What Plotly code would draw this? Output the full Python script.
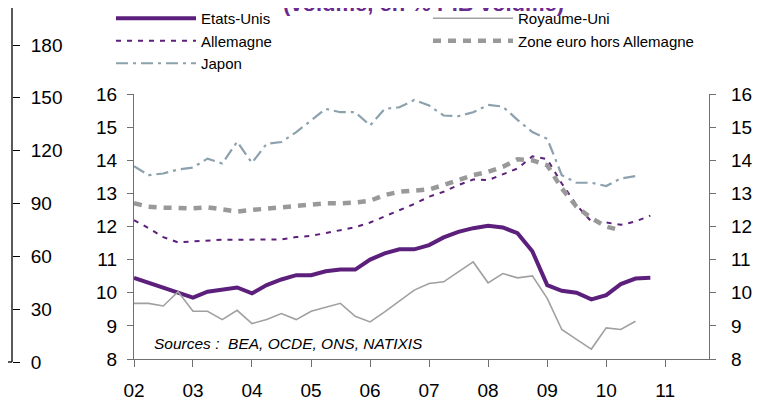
import pandas as pd
import plotly.graph_objects as go

# quarterly data, 2002 T1 -> 2010 T4 (en % du PIB volume)
quarters = pd.date_range("2002-01-01", periods=36, freq="QS")

etats_unis = [10.45, 10.30, 10.17, 10.00, 9.85, 10.03, 10.10, 10.16,
              9.98, 10.23, 10.40, 10.53, 10.53, 10.65, 10.70, 10.70,
              11.00, 11.19, 11.31, 11.31, 11.44, 11.67, 11.84, 11.95,
              12.02, 11.97, 11.80, 11.25, 10.23, 10.06, 10.00, 9.80,
              9.93, 10.26, 10.43, 10.45]

royaume_uni = [9.68, 9.68, 9.60, 10.03, 9.44, 9.44, 9.19, 9.47,
               9.07, 9.19, 9.37, 9.19, 9.44, 9.55, 9.68, 9.29,
               9.12, 9.42, 9.76, 10.08, 10.28, 10.33, 10.63, 10.93,
               10.30, 10.58, 10.45, 10.51, 9.83, 8.89, 8.59, 8.30,
               8.94, 8.89, 9.14]

allemagne = [12.19, 11.95, 11.68, 11.52, 11.55, 11.58, 11.60, 11.60,
             11.60, 11.60, 11.61, 11.68, 11.72, 11.80, 11.88, 11.98,
             12.12, 12.30, 12.50, 12.68, 12.90, 13.05, 13.25, 13.42,
             13.40, 13.57, 13.75, 14.12, 14.03, 13.30, 12.65, 12.15,
             12.12, 12.05, 12.15, 12.33]

zone_euro = [12.70, 12.60, 12.57, 12.55, 12.55, 12.58, 12.52, 12.45,
             12.50, 12.55, 12.58, 12.62, 12.66, 12.70, 12.70, 12.72,
             12.78, 12.95, 13.05, 13.10, 13.12, 13.25, 13.40, 13.55,
             13.65, 13.80, 14.03, 14.00, 13.85, 13.15, 12.60, 12.25,
             12.00, 11.88]

japon = [13.82, 13.55, 13.60, 13.72, 13.78, 14.05, 13.90, 14.56,
         13.92, 14.50, 14.55, 14.85, 15.20, 15.55, 15.45, 15.45,
         15.05, 15.55, 15.60, 15.82, 15.65, 15.35, 15.33, 15.45,
         15.67, 15.62, 15.22, 14.85, 14.65, 13.55, 13.32, 13.32,
         13.22, 13.45, 13.52]

left_ticks = [0, 30, 60, 90, 120, 150, 180]

# the page body has an 8px margin, so positions are given in window pixels
# and shifted back by 8
OFF = 8
W, H = 763 - OFF, 403 - OFF
def px(x):
    return (x - OFF) / W
def py(y):
    return 1 - (y - OFF) / H

PURPLE = "#5C1F7C"
FONT = "Arial, Liberation Sans, sans-serif"

fig = go.Figure()

fig.add_trace(go.Scatter(x=quarters[:len(etats_unis)], y=etats_unis, name="Etats-Unis",
                         mode="lines", line=dict(color=PURPLE, width=4)))
fig.add_trace(go.Scatter(x=quarters[:len(royaume_uni)], y=royaume_uni, name="Royaume-Uni",
                         mode="lines", line=dict(color="#A0A0A0", width=1.6)))
fig.add_trace(go.Scatter(x=quarters[:len(allemagne)], y=allemagne, name="Allemagne",
                         mode="lines", line=dict(color=PURPLE, width=2, dash="5px,6px")))
fig.add_trace(go.Scatter(x=quarters[:len(zone_euro)], y=zone_euro, name="Zone euro hors Allemagne",
                         mode="lines", line=dict(color="#999999", width=4.5, dash="8px,7px")))
fig.add_trace(go.Scatter(x=quarters[:len(japon)], y=japon, name="Japon",
                         mode="lines", line=dict(color="#8BA1AD", width=2.2, dash="12px,5px,3px,5px")))

# right-hand copy of the scale
fig.add_trace(go.Scatter(x=[quarters[0]], y=[8], yaxis="y2", showlegend=False,
                         mode="markers", marker=dict(opacity=0), hoverinfo="skip"))
# scale of the neighbouring (cropped) chart
fig.add_trace(go.Scatter(x=[0], y=[0], xaxis="x2", yaxis="y3", showlegend=False,
                         mode="markers", marker=dict(opacity=0), hoverinfo="skip"))

axis_col = "#707070"
tickfont = dict(family=FONT, size=19, color="#000000")

fig.update_layout(
    width=W, height=H,
    margin=dict(l=0, r=0, t=0, b=0, autoexpand=False),
    paper_bgcolor="white", plot_bgcolor="white",
    font=dict(family=FONT, color="#000000"),
    xaxis=dict(domain=[px(134), px(709)], anchor="y",
               type="date", range=["2002-01-01", "2011-09-29"],
               dtick="M12", tick0="2002-01-01", tickformat="%y",
               showgrid=False, zeroline=False, showline=True, linecolor=axis_col,
               linewidth=1.3, ticks="outside", ticklen=7, tickcolor=axis_col,
               tickfont=tickfont, ticklabelstandoff=7),
    yaxis=dict(domain=[py(359), py(94)], anchor="x", range=[8, 16], dtick=1,
               showgrid=False, zeroline=False, showline=True, linecolor=axis_col,
               linewidth=1.3, ticks="outside", ticklen=6, tickcolor=axis_col,
               tickfont=tickfont, ticklabelstandoff=6),
    yaxis2=dict(overlaying="y", side="right", anchor="x", range=[8, 16], dtick=1,
                showgrid=False, zeroline=False, showline=True, linecolor=axis_col,
                linewidth=1.3, ticks="outside", ticklen=6, tickcolor=axis_col,
                tickfont=tickfont, ticklabelstandoff=11),
    xaxis2=dict(domain=[0, px(12)], anchor="y3", range=[0, 1], showgrid=False,
                zeroline=False, showline=False, showticklabels=False, ticks=""),
    yaxis3=dict(domain=[py(362), 1], anchor="x2", side="right",
                range=[0, 180 * (362 - OFF) / 317], tickvals=left_ticks,
                showgrid=False, zeroline=False, showline=False,
                ticks="outside", ticklen=7, tickcolor="#000000",
                tickfont=tickfont, ticklabelstandoff=7),
    legend=dict(orientation="h", x=px(111), y=py(2), xanchor="left", yanchor="top",
                entrywidth=222, entrywidthmode="pixels", itemwidth=80,
                font=dict(family=FONT, size=15, color="#000000"),
                bgcolor="rgba(0,0,0,0)", tracegroupgap=0),
    annotations=[
        dict(text="<b>(volume, en % PIB volume)</b>", x=px(423), y=py(3.5),
             xref="paper", yref="paper", xanchor="center", yanchor="middle",
             showarrow=False, font=dict(family=FONT, size=22, color="#6A2A8E")),
        dict(text="<i>Sources :  BEA, OCDE, ONS, NATIXIS</i>", x=px(152), y=py(343),
             xref="paper", yref="paper", xanchor="left", yanchor="middle",
             showarrow=False, font=dict(family=FONT, size=15.5, color="#000000")),
    ],
    # frame of the neighbouring chart, running off the left/top edge
    shapes=[
        dict(type="line", xref="paper", yref="paper", x0=px(12), x1=px(12),
             y0=py(0), y1=py(362), line=dict(color="#000000", width=1.3)),
        dict(type="line", xref="paper", yref="paper", x0=px(0), x1=px(12),
             y0=py(362), y1=py(362), line=dict(color="#000000", width=1.3)),
    ],
)

fig.write_html("out.html")
